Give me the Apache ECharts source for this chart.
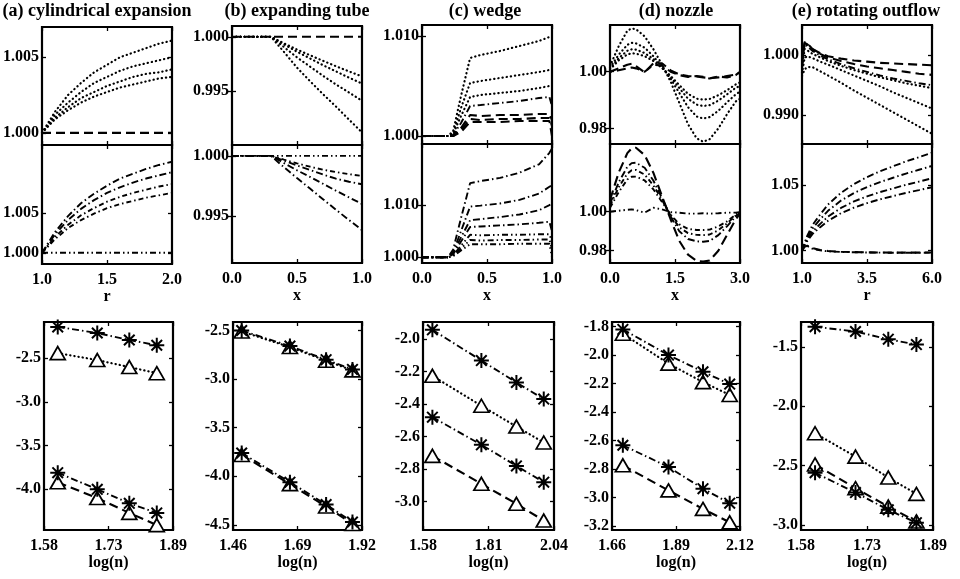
<!DOCTYPE html>
<html><head><meta charset="utf-8">
<script src="https://cdn.jsdelivr.net/npm/echarts@6/dist/echarts.min.js"></script>
<style>html,body{margin:0;padding:0;background:#fff}#c{width:960px;height:579px}</style>
</head><body><div id="c"></div>
<script>
// ---------- titles ----------
const titles = ['(a) cylindrical expansion', '(b) expanding tube', '(c) wedge', '(d) nozzle', '(e) rotating outflow'];

// ---------- (a) cylindrical expansion ----------
const xA = [1.0, 1.1, 1.2, 1.3, 1.4, 1.5, 1.6, 1.7, 1.8, 1.9, 2.0];
const aTop1 = [1.0000, 1.0014, 1.0025, 1.0033, 1.0040, 1.0045, 1.0050, 1.0053, 1.0056, 1.0059, 1.0061];
const aTop2 = [1.0000, 1.0012, 1.0020, 1.0027, 1.0033, 1.0037, 1.0041, 1.0044, 1.0046, 1.0048, 1.0050];
const aTop3 = [1.0000, 1.0010, 1.0017, 1.0023, 1.0027, 1.0031, 1.0034, 1.0037, 1.0039, 1.0040, 1.0042];
const aTop4 = [1.0000, 1.0009, 1.0015, 1.0020, 1.0024, 1.0027, 1.0030, 1.0032, 1.0034, 1.0036, 1.0037];
const aTopF = [1.0000, 1.0000, 1.0000, 1.0000, 1.0000, 1.0000, 1.0000, 1.0000, 1.0000, 1.0000, 1.0000];
const aMid1 = [1.0000, 1.0026, 1.0046, 1.0062, 1.0074, 1.0084, 1.0093, 1.0099, 1.0105, 1.0110, 1.0114];
const aMid2 = [1.0000, 1.0023, 1.0041, 1.0055, 1.0066, 1.0075, 1.0082, 1.0088, 1.0093, 1.0097, 1.0101];
const aMid3 = [1.0000, 1.0020, 1.0035, 1.0047, 1.0056, 1.0064, 1.0070, 1.0075, 1.0079, 1.0083, 1.0086];
const aMid4 = [1.0000, 1.0017, 1.0031, 1.0041, 1.0049, 1.0056, 1.0061, 1.0065, 1.0069, 1.0072, 1.0075];
const aMidF = [1.0000, 1.0000, 1.0000, 1.0000, 1.0000, 1.0000, 1.0000, 1.0000, 1.0000, 1.0000, 1.0000];

// ---------- (b) expanding tube ----------
const xB = [0.0, 0.1, 0.2, 0.3, 0.4, 0.5, 0.6, 0.7, 0.8, 0.9, 1.0];
const bTop1 = [1, 1, 1, 1, 0.99940, 0.99882, 0.99830, 0.99778, 0.99728, 0.99680, 0.99634];
const bTop2 = [1, 1, 1, 1, 0.99930, 0.99862, 0.99800, 0.99738, 0.99680, 0.99622, 0.99568];
const bTop3 = [1, 1, 1, 1, 0.99905, 0.99810, 0.99725, 0.99640, 0.99560, 0.99485, 0.99409];
const bTop4 = [1, 1, 1, 1, 0.99860, 0.99715, 0.99590, 0.99470, 0.99355, 0.99235, 0.99116];
const bTopF = [1, 1, 1, 1, 1, 1, 1, 1, 1, 1, 1];
const bMid1 = [1, 1, 1, 1, 0.99968, 0.99938, 0.99910, 0.99885, 0.99865, 0.99848, 0.99833];
const bMid2 = [1, 1, 1, 1, 0.99960, 0.99920, 0.99882, 0.99845, 0.99810, 0.99785, 0.99764];
const bMid3 = [1, 1, 1, 1, 0.99940, 0.99880, 0.99825, 0.99768, 0.99710, 0.99655, 0.99600];
const bMid4 = [1, 1, 1, 1, 0.99905, 0.99815, 0.99728, 0.99640, 0.99552, 0.99467, 0.99383];
const bMidF = [1, 1, 1, 1, 1, 1, 1, 1, 1, 1, 1];

// ---------- (c) wedge ----------
const xC = [0, 0.1, 0.2, 0.24, 0.3, 0.37, 0.45, 0.6, 0.75, 0.9, 0.98, 1.0];
const cTop1 = [1.0000, 1.0000, 1.0000, 1.0005, 1.0040, 1.0078, 1.0081, 1.0085, 1.0090, 1.0095, 1.0099, 1.0100];
const cTop2 = [1.0000, 1.0000, 1.0000, 1.0003, 1.0028, 1.0053, 1.0055, 1.0058, 1.0061, 1.0064, 1.0066, 1.0066];
const cTop3 = [1.0000, 1.0000, 1.0000, 1.0002, 1.0020, 1.0039, 1.0041, 1.0043, 1.0045, 1.0048, 1.0050, 1.0050];
const cTop4 = [1.0000, 1.0000, 1.0000, 1.0001, 1.0013, 1.0030, 1.0031, 1.0033, 1.0035, 1.0038, 1.0039, 1.0030];
const cTop5 = [1.0000, 1.0000, 1.0000, 1.0000, 1.0008, 1.0021, 1.0020, 1.0021, 1.0021, 1.0022, 1.0022, 1.0016];
const cTop6 = [1.0000, 1.0000, 1.0000, 1.0000, 1.0006, 1.0017, 1.0016, 1.0017, 1.0017, 1.0018, 1.0018, 1.0010];
const cTop7 = [1.0000, 1.0000, 1.0000, 1.0000, 1.0004, 1.0014, 1.0014, 1.0014, 1.0015, 1.0015, 1.0015, 1.0000];
const cMid1 = [1.0000, 1.0000, 1.0000, 1.0015, 1.0075, 1.0142, 1.0146, 1.0152, 1.0162, 1.0178, 1.0200, 1.0208];
const cMid2 = [1.0000, 1.0000, 1.0000, 1.0010, 1.0050, 1.0097, 1.0099, 1.0103, 1.0110, 1.0122, 1.0135, 1.0138];
const cMid3 = [1.0000, 1.0000, 1.0000, 1.0008, 1.0038, 1.0071, 1.0073, 1.0077, 1.0082, 1.0090, 1.0100, 1.0103];
const cMid4 = [1.0000, 1.0000, 1.0000, 1.0006, 1.0030, 1.0058, 1.0059, 1.0061, 1.0063, 1.0066, 1.0068, 1.0050];
const cMid5 = [1.0000, 1.0000, 1.0000, 1.0004, 1.0022, 1.0043, 1.0042, 1.0043, 1.0043, 1.0044, 1.0044, 1.0030];
const cMid6 = [1.0000, 1.0000, 1.0000, 1.0003, 1.0017, 1.0033, 1.0032, 1.0033, 1.0033, 1.0034, 1.0034, 1.0015];
const cMid7 = [1.0000, 1.0000, 1.0000, 1.0002, 1.0013, 1.0025, 1.0025, 1.0025, 1.0026, 1.0026, 1.0026, 1.0000];

// ---------- (d) nozzle ----------
const xD = [0, 0.2, 0.4, 0.5, 0.6, 0.8, 1.0, 1.2, 1.4, 1.6, 1.8, 2.0, 2.15, 2.3, 2.5, 2.7, 2.9, 3.0];
const dTop1 = [1.0020, 1.0090, 1.0145, 1.0153, 1.0150, 1.0125, 1.0080, 1.0025, 0.9965, 0.9890, 0.9815, 0.9765, 0.9753, 0.9762, 0.9800, 0.9850, 0.9895, 0.9905];
const dTop2 = [1.0015, 1.0060, 1.0095, 1.0102, 1.0100, 1.0085, 1.0055, 1.0018, 0.9975, 0.9925, 0.9875, 0.9842, 0.9835, 0.9840, 0.9862, 0.9892, 0.9920, 0.9930];
const dTop3 = [1.0010, 1.0048, 1.0074, 1.0079, 1.0078, 1.0066, 1.0045, 1.0015, 0.9982, 0.9942, 0.9905, 0.9884, 0.9879, 0.9882, 0.9898, 0.9920, 0.9943, 0.9950];
const dTop4 = [1.0008, 1.0040, 1.0061, 1.0065, 1.0064, 1.0055, 1.0038, 1.0013, 0.9985, 0.9953, 0.9922, 0.9905, 0.9902, 0.9904, 0.9917, 0.9935, 0.9955, 0.9962];
const dTopW1 = [1.0000, 1.0012, 1.0025, 1.0028, 1.0020, 0.9998, 1.0030, 1.0030, 1.0005, 0.9990, 0.9985, 0.9983, 0.9980, 0.9978, 0.9980, 0.9985, 0.9990, 0.9998];
const dTopW2 = [1.0000, 1.0005, 1.0012, 1.0015, 1.0012, 1.0000, 1.0025, 1.0022, 1.0000, 0.9988, 0.9982, 0.9985, 0.9982, 0.9976, 0.9983, 0.9980, 0.9988, 1.0000];
const dMid1 = [1.0060, 1.0200, 1.0300, 1.0325, 1.0328, 1.0290, 1.0200, 1.0080, 0.9960, 0.9850, 0.9780, 0.9748, 0.9744, 0.9750, 0.9800, 0.9880, 0.9960, 0.9990];
const dMid2 = [1.0040, 1.0150, 1.0230, 1.0249, 1.0251, 1.0225, 1.0160, 1.0070, 0.9975, 0.9900, 0.9860, 0.9848, 0.9846, 0.9850, 0.9880, 0.9925, 0.9975, 0.9995];
const dMid3 = [1.0030, 1.0125, 1.0195, 1.0212, 1.0214, 1.0190, 1.0135, 1.0060, 0.9980, 0.9920, 0.9890, 0.9881, 0.9880, 0.9883, 0.9905, 0.9940, 0.9980, 0.9998];
const dMid4 = [1.0020, 1.0100, 1.0165, 1.0179, 1.0180, 1.0160, 1.0115, 1.0050, 0.9985, 0.9935, 0.9912, 0.9906, 0.9906, 0.9908, 0.9925, 0.9950, 0.9985, 1.0000];
const dMidW = [1.0000, 1.0005, 1.0010, 1.0012, 1.0008, 0.9995, 1.0020, 1.0012, 0.9998, 0.9995, 0.9990, 0.9990, 0.9992, 0.9990, 0.9992, 0.9995, 0.9995, 0.9998];

// ---------- (e) rotating outflow ----------
const xE = [1.0, 1.1, 1.2, 1.4, 1.7, 2.0, 2.5, 3.0, 3.5, 4.0, 4.5, 5.0, 5.5, 6.0];
const eTop1 = [0.9990, 1.0020, 1.0018, 1.0010, 1.0003, 0.9998, 0.9994, 0.9991, 0.9989, 0.9987, 0.9986, 0.9985, 0.9984, 0.9983];
const eTop2 = [0.9985, 1.0022, 1.0020, 1.0010, 1.0002, 0.9996, 0.9990, 0.9985, 0.9981, 0.9978, 0.9975, 0.9972, 0.9969, 0.9967];
const eTop3 = [0.9980, 1.0018, 1.0015, 1.0007, 0.9999, 0.9993, 0.9985, 0.9978, 0.9972, 0.9966, 0.9961, 0.9957, 0.9953, 0.9950];
const eTop4 = [0.9975, 1.0010, 1.0008, 1.0002, 0.9996, 0.9990, 0.9982, 0.9975, 0.9969, 0.9963, 0.9958, 0.9953, 0.9949, 0.9945];
const eTop5 = [0.9970, 0.9995, 0.9998, 0.9995, 0.9989, 0.9984, 0.9975, 0.9966, 0.9957, 0.9948, 0.9938, 0.9929, 0.9920, 0.9911];
const eTop6 = [0.9965, 0.9976, 0.9980, 0.9980, 0.9973, 0.9966, 0.9954, 0.9941, 0.9929, 0.9917, 0.9905, 0.9893, 0.9881, 0.9869];
const eMid1 = [1.0000, 1.0060, 1.0112, 1.0194, 1.0276, 1.0351, 1.0440, 1.0507, 1.0560, 1.0604, 1.0642, 1.0679, 1.0712, 1.0746];
const eMid2 = [1.0000, 1.0052, 1.0097, 1.0168, 1.0239, 1.0303, 1.0381, 1.0439, 1.0484, 1.0522, 1.0555, 1.0587, 1.0616, 1.0645];
const eMid3 = [1.0000, 1.0044, 1.0083, 1.0143, 1.0204, 1.0259, 1.0325, 1.0375, 1.0413, 1.0446, 1.0474, 1.0501, 1.0526, 1.0551];
const eMid4 = [1.0000, 1.0039, 1.0072, 1.0126, 1.0179, 1.0227, 1.0285, 1.0328, 1.0362, 1.0391, 1.0415, 1.0440, 1.0461, 1.0483];
const eMidF1 = [1.0000, 1.0040, 1.0035, 1.0015, 1.0002, 0.9995, 0.9990, 0.9988, 0.9986, 0.9985, 0.9984, 0.9984, 0.9984, 0.9985];
const eMidF2 = [1.0000, 1.0030, 1.0038, 1.0020, 1.0005, 0.9997, 0.9992, 0.9989, 0.9987, 0.9986, 0.9985, 0.9985, 0.9985, 0.9986];

// ---------- convergence (log(n) vs log(error)) ----------
const nA = [1.613, 1.708, 1.785, 1.851];
const aStarHi = [-2.14, -2.21, -2.29, -2.35];
const aTriHi  = [-2.44, -2.52, -2.60, -2.67];
const aStarLo = [-3.81, -4.00, -4.16, -4.27];
const aTriLo  = [-3.92, -4.10, -4.27, -4.41];
const nB = [1.491, 1.663, 1.792, 1.886];
const bStarHi = [-2.50, -2.66, -2.80, -2.90];
const bTriHi  = [-2.51, -2.67, -2.81, -2.91];
const bStarLo = [-3.76, -4.06, -4.29, -4.47];
const bTriLo  = [-3.78, -4.08, -4.31, -4.49];
const nC = [1.613, 1.785, 1.908, 2.004];
const cStarHi = [-1.943, -2.132, -2.267, -2.369];
const cTriHi  = [-2.226, -2.410, -2.538, -2.636];
const cStarLo = [-2.480, -2.650, -2.780, -2.880];
const cTriLo  = [-2.718, -2.890, -3.013, -3.116];
const nD = [1.699, 1.863, 1.987, 2.083];
const dStarHi = [-1.820, -2.000, -2.117, -2.204];
const dTriHi  = [-1.850, -2.060, -2.190, -2.280];
const dStarLo = [-2.633, -2.786, -2.938, -3.040];
const dTriLo  = [-2.774, -2.950, -3.080, -3.174];
const nE = [1.613, 1.708, 1.785, 1.851];
const eStarHi = [-1.33, -1.37, -1.435, -1.48];
const eTriHi  = [-2.227, -2.424, -2.600, -2.738];
const eTriLo  = [-2.490, -2.690, -2.845, -2.970];
const eStarLo = [-2.560, -2.727, -2.872, -2.980];

// ---------- tick values & labels ----------
const xTicksA = [1.0, 1.5, 2.0];       const xLabelsA = ['1.0', '1.5', '2.0'];
const xTicksB = [0.0, 0.5, 1.0];       const xLabelsB = ['0.0', '0.5', '1.0'];
const xTicksD = [0.0, 1.5, 3.0];       const xLabelsD = ['0.0', '1.5', '3.0'];
const xTicksE = [1.0, 3.5, 6.0];       const xLabelsE = ['1.0', '3.5', '6.0'];
const yTicksA = [1.000, 1.005];        const yLabelsA = ['1.000', '1.005'];
const yTicksB = [0.995, 1.000];        const yLabelsB = ['0.995', '1.000'];
const yTicksC = [1.000, 1.010];        const yLabelsC = ['1.000', '1.010'];
const yTicksD = [0.98, 1.00];          const yLabelsD = ['0.98', '1.00'];
const yTicksETop = [0.990, 1.000];     const yLabelsETop = ['0.990', '1.000'];
const yTicksEMid = [1.00, 1.05];       const yLabelsEMid = ['1.00', '1.05'];
const nTicksA = [1.58, 1.735, 1.89];   const nLabelsA = ['1.58', '1.73', '1.89'];
const nTicksB = [1.46, 1.69, 1.92];    const nLabelsB = ['1.46', '1.69', '1.92'];
const nTicksC = [1.58, 1.81, 2.04];    const nLabelsC = ['1.58', '1.81', '2.04'];
const nTicksD = [1.66, 1.89, 2.12];    const nLabelsD = ['1.66', '1.89', '2.12'];
const nTicksE = [1.58, 1.735, 1.89];   const nLabelsE = ['1.58', '1.73', '1.89'];
const eTicksA = [-4.0, -3.5, -3.0, -2.5];        const eLabelsA = ['-4.0', '-3.5', '-3.0', '-2.5'];
const eTicksB = [-4.5, -4.0, -3.5, -3.0, -2.5];  const eLabelsB = ['-4.5', '-4.0', '-3.5', '-3.0', '-2.5'];
const eTicksC = [-3.0, -2.8, -2.6, -2.4, -2.2, -2.0]; const eLabelsC = ['-3.0', '-2.8', '-2.6', '-2.4', '-2.2', '-2.0'];
const eTicksD = [-3.2, -3.0, -2.8, -2.6, -2.4, -2.2, -2.0, -1.8]; const eLabelsD = ['-3.2', '-3.0', '-2.8', '-2.6', '-2.4', '-2.2', '-2.0', '-1.8'];
const eTicksE = [-3.0, -2.5, -2.0, -1.5];        const eLabelsE = ['-3.0', '-2.5', '-2.0', '-1.5'];

// ---------- builders ----------
const FONT = 'Liberation Serif';
const TXT = { fontFamily: FONT, fontWeight: 'bold', fontSize: 16, color: '#000' };
const DOT = { type: [0.3, 3.9], cap: 'round', width: 2.2 };
const DASH = { type: [9, 5], width: 2.1 };
const DASHDOT = { type: [7, 3, 1.5, 3], width: 1.9 };
const DASHDOT2 = { type: [5, 3, 1.5, 3], width: 1.9 };
const DASHDOTDOT = { type: [6, 3, 1.5, 3, 1.5, 3], width: 1.9 };

const grids = [], xAxes = [], yAxes = [], series = [];
function fmt(ticks, labels) {
  return function (v) {
    for (let i = 0; i < ticks.length; i++) if (Math.abs(ticks[i] - v) < 1e-7) return labels[i];
    return '';
  };
}
function tick(vals) {
  return { show: true, inside: true, length: 4, lineStyle: { color: '#000', width: 1.3 }, customValues: vals };
}
function addPanel(box, p) {
  const gi = grids.length;
  grids.push({ left: box[0], top: box[1], width: box[2], height: box[3], show: true,
    borderColor: '#000', borderWidth: 2.2, backgroundColor: 'transparent', containLabel: false, outerBoundsMode: 'none' });
  xAxes.push({ type: 'value', gridIndex: gi, position: 'bottom', min: p.xr[0], max: p.xr[1],
    axisLine: { show: false }, splitLine: { show: false }, axisTick: tick(p.xt),
    axisLabel: p.xl ? Object.assign({}, TXT, { margin: 8, customValues: p.xt, formatter: fmt(p.xt, p.xl), hideOverlap: false }) : { show: false },
    name: p.xn || '', nameLocation: 'middle', nameGap: 25, nameTextStyle: Object.assign({}, TXT) });
  xAxes.push({ type: 'value', gridIndex: gi, position: 'top', min: p.xr[0], max: p.xr[1],
    axisLine: { show: false }, splitLine: { show: false }, axisTick: tick(p.xt), axisLabel: { show: false } });
  yAxes.push({ type: 'value', gridIndex: gi, position: 'left', min: p.yr[0], max: p.yr[1],
    axisLine: { show: false }, splitLine: { show: false }, axisTick: tick(p.yt),
    axisLabel: Object.assign({}, TXT, { margin: 3, customValues: p.yt, formatter: fmt(p.yt, p.yl), hideOverlap: false }) });
  yAxes.push({ type: 'value', gridIndex: gi, position: 'right', min: p.yr[0], max: p.yr[1],
    axisLine: { show: false }, splitLine: { show: false }, axisTick: tick(p.yt), axisLabel: { show: false } });
  return gi;
}
function line(gi, xs, ys, st) {
  series.push({ type: 'line', xAxisIndex: gi * 2, yAxisIndex: gi * 2, data: xs.map((x, k) => [x, ys[k]]),
    showSymbol: false, symbol: 'none', silent: true, animation: false,
    lineStyle: Object.assign({ color: '#000' }, st) });
}
const STAR = 'path://M0,-10L0,10M-10,0L10,0M-7.07,-7.07L7.07,7.07M-7.07,7.07L7.07,-7.07';
function marked(gi, xs, ys, st, kind) {
  const isStar = kind === 'star';
  series.push({ type: 'line', xAxisIndex: gi * 2, yAxisIndex: gi * 2, data: xs.map((x, k) => [x, ys[k]]),
    showSymbol: true, symbol: isStar ? STAR : 'triangle', symbolSize: isStar ? 15 : [15, 13],
    itemStyle: { color: isStar ? 'rgba(0,0,0,0)' : '#fff', borderColor: '#000', borderWidth: isStar ? 2 : 1.7 },
    silent: true, animation: false, z: isStar ? 4 : 3,
    lineStyle: Object.assign({ color: '#000' }, st) });
}

// ---------- panels ----------
// (a)
let g = addPanel([42, 27, 130, 118], { xr: [1, 2], xt: xTicksA, yr: [0.9992, 1.0070], yt: yTicksA, yl: yLabelsA });
[aTop1, aTop2, aTop3, aTop4].forEach(s => line(g, xA, s, DOT)); line(g, xA, aTopF, DASH);
g = addPanel([42, 145, 130, 119], { xr: [1, 2], xt: xTicksA, xl: xLabelsA, xn: 'r', yr: [0.9986, 1.0135], yt: yTicksA, yl: yLabelsA });
line(g, xA, aMid1, DASHDOT); line(g, xA, aMid2, DASHDOT); line(g, xA, aMid3, DASHDOT2); line(g, xA, aMid4, DASHDOT2);
line(g, xA, aMidF, DASHDOTDOT);
g = addPanel([44, 322, 129, 208], { xr: [1.58, 1.89], xt: nTicksA, xl: nLabelsA, xn: 'log(n)', yr: [-4.466, -2.084], yt: eTicksA, yl: eLabelsA });
marked(g, nA, aStarHi, DASHDOT, 'star'); marked(g, nA, aTriHi, DOT, 'tri');
marked(g, nA, aStarLo, DASHDOT, 'star'); marked(g, nA, aTriLo, DASH, 'tri');

// (b)
g = addPanel([232, 26, 130, 119], { xr: [0, 1], xt: xTicksB, yr: [0.9900, 1.0010], yt: yTicksB, yl: yLabelsB });
[bTop1, bTop2, bTop3, bTop4].forEach(s => line(g, xB, s, DOT)); line(g, xB, bTopF, DASH);
g = addPanel([232, 145, 130, 118], { xr: [0, 1], xt: xTicksB, xl: xLabelsB, xn: 'x', yr: [0.9911, 1.0009], yt: yTicksB, yl: yLabelsB });
line(g, xB, bMid1, DASHDOT2); line(g, xB, bMid2, DASHDOT); line(g, xB, bMid3, DASHDOT); line(g, xB, bMid4, DASHDOT);
line(g, xB, bMidF, DASHDOTDOT);
g = addPanel([233, 322, 129, 208], { xr: [1.46, 1.92], xt: nTicksB, xl: nLabelsB, xn: 'log(n)', yr: [-4.552, -2.412], yt: eTicksB, yl: eLabelsB });
marked(g, nB, bStarHi, DASHDOT, 'star'); marked(g, nB, bTriHi, DOT, 'tri');
marked(g, nB, bStarLo, DASHDOT, 'star'); marked(g, nB, bTriLo, DASH, 'tri');

// (c)
g = addPanel([422, 25, 130, 119], { xr: [0, 1], xt: xTicksB, yr: [0.9992, 1.0111], yt: yTicksC, yl: yLabelsC });
[cTop1, cTop2, cTop3].forEach(s => line(g, xC, s, DOT)); line(g, xC, cTop4, DASHDOT);
[cTop5, cTop6, cTop7].forEach(s => line(g, xC, s, DASH));
g = addPanel([422, 144, 130, 119], { xr: [0, 1], xt: xTicksB, xl: xLabelsB, xn: 'x', yr: [0.9989, 1.0217], yt: yTicksC, yl: yLabelsC });
[cMid1, cMid2, cMid3, cMid4].forEach(s => line(g, xC, s, DASHDOT));
[cMid5, cMid6, cMid7].forEach(s => line(g, xC, s, DASHDOTDOT));
g = addPanel([423, 322, 131, 208], { xr: [1.58, 2.04], xt: nTicksC, xl: nLabelsC, xn: 'log(n)', yr: [-3.174, -1.895], yt: eTicksC, yl: eLabelsC });
marked(g, nC, cStarHi, DASHDOT, 'star'); marked(g, nC, cTriHi, DOT, 'tri');
marked(g, nC, cStarLo, DASHDOT, 'star'); marked(g, nC, cTriLo, DASH, 'tri');

// (d)
g = addPanel([610, 25, 130, 119], { xr: [0, 3], xt: xTicksD, yr: [0.9745, 1.0165], yt: yTicksD, yl: yLabelsD });
[dTop1, dTop2, dTop3, dTop4].forEach(s => line(g, xD, s, DOT));
line(g, xD, dTopW1, DASH); line(g, xD, dTopW2, Object.assign({}, DASH, { dashOffset: 7 }));
g = addPanel([610, 144, 130, 119], { xr: [0, 3], xt: xTicksD, xl: xLabelsD, xn: 'x', yr: [0.9737, 1.0347], yt: yTicksD, yl: yLabelsD });
line(g, xD, dMid1, { type: [10, 5], width: 2.1 }); line(g, xD, dMid2, DASHDOT); line(g, xD, dMid3, DASHDOT2); line(g, xD, dMid4, DASHDOT2);
line(g, xD, dMidW, DASHDOTDOT);
g = addPanel([612, 322, 128, 208], { xr: [1.66, 2.12], xt: nTicksD, xl: nLabelsD, xn: 'log(n)', yr: [-3.228, -1.768], yt: eTicksD, yl: eLabelsD });
marked(g, nD, dStarHi, DASHDOT, 'star'); marked(g, nD, dTriHi, DOT, 'tri');
marked(g, nD, dStarLo, DASHDOT, 'star'); marked(g, nD, dTriLo, DASH, 'tri');

// (e)
g = addPanel([802, 25, 130, 119], { xr: [1, 6], xt: xTicksE, yr: [0.9852, 1.0050], yt: yTicksETop, yl: yLabelsETop });
line(g, xE, eTop1, DASH); line(g, xE, eTop2, DASH); line(g, xE, eTop3, DASHDOT);
[eTop4, eTop5, eTop6].forEach(s => line(g, xE, s, DOT));
g = addPanel([802, 144, 130, 119], { xr: [1, 6], xt: xTicksE, xl: xLabelsE, xn: 'r', yr: [0.9906, 1.0812], yt: yTicksEMid, yl: yLabelsEMid });
[eMid1, eMid2, eMid3, eMid4].forEach(s => line(g, xE, s, DASHDOT));
line(g, xE, eMidF1, DASHDOTDOT); line(g, xE, eMidF2, DASH);
g = addPanel([801, 322, 132, 208], { xr: [1.58, 1.89], xt: nTicksE, xl: nLabelsE, xn: 'log(n)', yr: [-3.042, -1.29], yt: eTicksE, yl: eLabelsE });
marked(g, nE, eStarHi, DASHDOT, 'star'); marked(g, nE, eTriHi, DOT, 'tri');
marked(g, nE, eTriLo, DASH, 'tri'); marked(g, nE, eStarLo, DASHDOT, 'star');

const titleCenters = [97, 297, 485, 676, 866];
const option = {
  backgroundColor: '#fff',
  animation: false,
  title: titles.map((t, i) => ({ text: t, left: titleCenters[i], top: 2, textAlign: 'center', padding: 0,
    textStyle: { fontFamily: FONT, fontWeight: 'bold', fontSize: 18, color: '#000' } })),
  grid: grids, xAxis: xAxes, yAxis: yAxes, series: series
};
const chart = echarts.init(document.getElementById('c'), null, { renderer: 'canvas' });
chart.setOption(option);
</script></body></html>
